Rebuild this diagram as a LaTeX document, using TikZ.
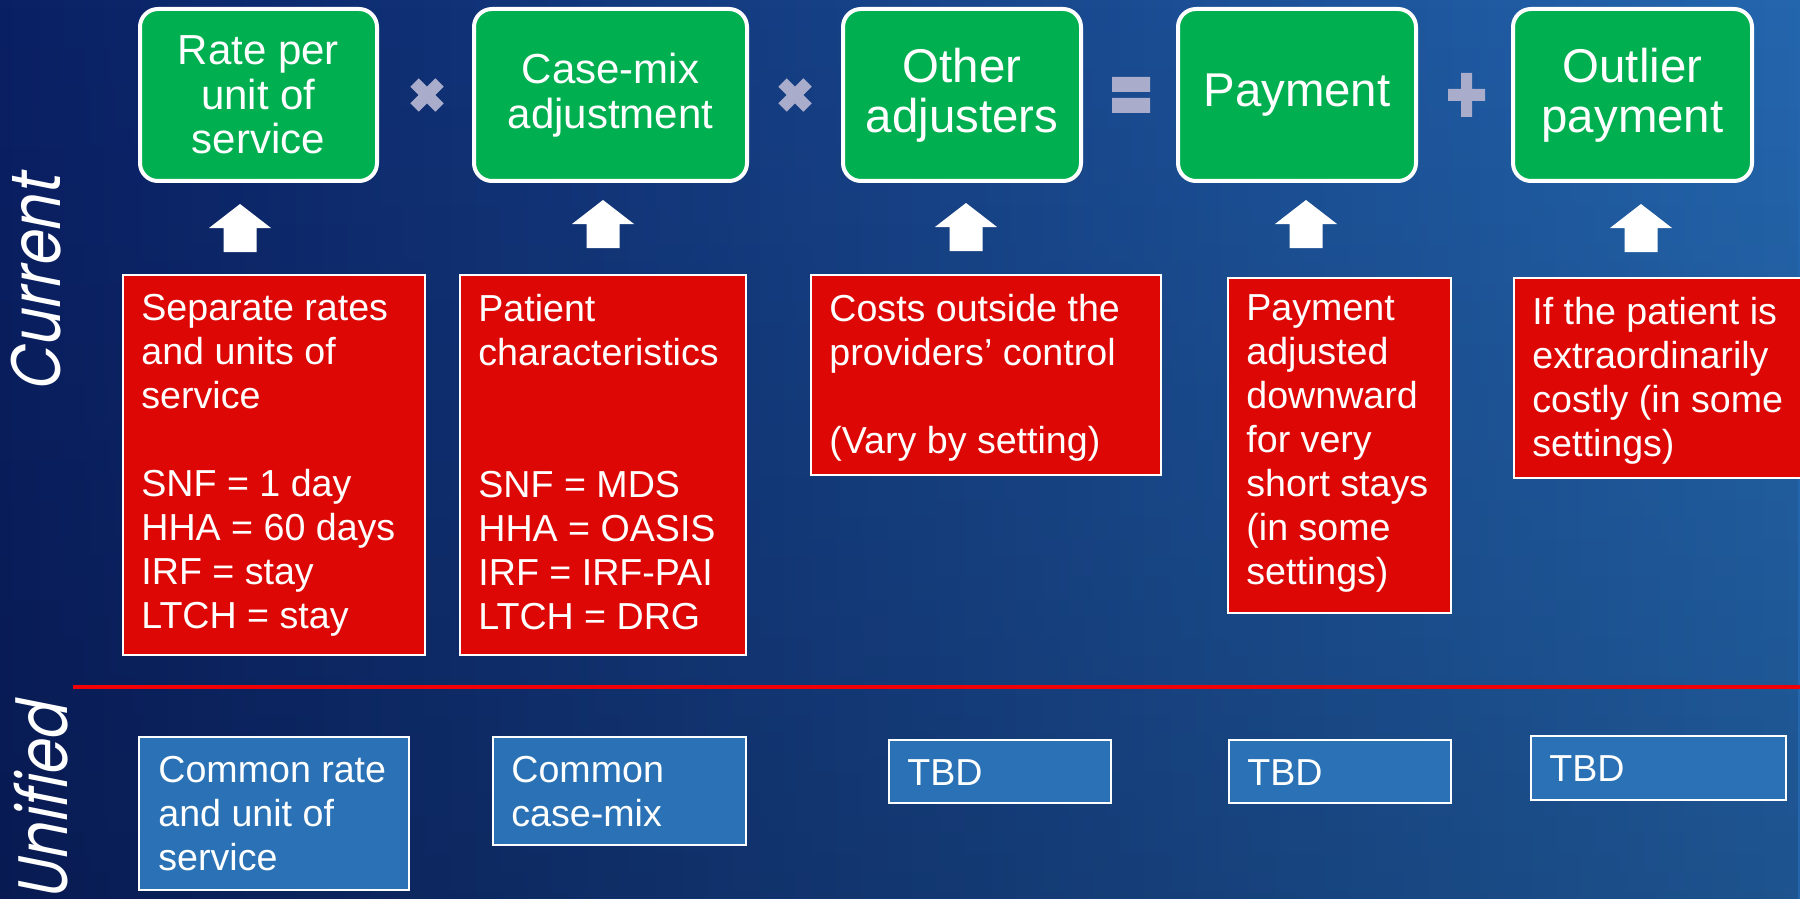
\documentclass[tikz,border=0pt]{standalone}
\usepackage{fontspec}
\setmainfont{Liberation Sans}
\newfontfamily\sidefont[FakeSlant=0.2,FakeStretch=0.82]{Poppins}
\usetikzlibrary{fadings}
\definecolor{bgL}{HTML}{0A2064}
\definecolor{bgR}{HTML}{2466AE}
\definecolor{ggreen}{HTML}{00AF50}
\definecolor{rred}{HTML}{DD0806}
\definecolor{bblue}{HTML}{2A72B5}
\definecolor{opcol}{HTML}{A9ADCB}
\definecolor{lred}{HTML}{F20008}
\newcommand{\blockarrow}[2]{\fill[white] (#1,#2) -- ++(31,24) -- ++(-14.5,0) -- ++(0,24) -- ++(-33,0) -- ++(0,-24) -- ++(-14.5,0) -- cycle;}
\begin{document}
\begin{tikzpicture}[x=0.5pt,y=-0.5pt,
 gbox/.style={draw=white,line width=2pt,fill=ggreen,rounded corners=9pt,text=white,align=center,inner sep=0pt,minimum height=86pt},
 gsmall/.style={font=\fontsize{21}{22.2}\selectfont},
 glarge/.style={font=\fontsize{23.7}{25}\selectfont},
 rbox/.style={draw=white,line width=1pt,fill=rred,anchor=north west,inner sep=0pt},
 bbox/.style={draw=white,line width=1pt,fill=bblue,anchor=north west,inner sep=0pt},
 btext/.style={anchor=north west,inner sep=0pt,text=white,align=left,font=\fontsize{18.8}{22}\selectfont,xshift=9.5pt,yshift=-10pt},
 oper/.style={fill=opcol},
 side/.style={text=white,font=\sidefont\fontsize{35}{40}\selectfont,rotate=90,inner sep=0pt}]
\useasboundingbox (0,0) rectangle (1800,899);
\clip (0,0) rectangle (1800,899);
% background
\shade[left color=bgL, right color=bgR] (0,0) rectangle (1800,899);
\fill[black, opacity=0.18, path fading=north] (0,0) rectangle (1800,899);

% side labels
\node[side, anchor=base] (cur) at (61,284) {Current};
\node[side, anchor=base east] (uni) at (68,703) {Unified};

% green boxes
\node[gbox, gsmall, minimum width=118.5pt] (g1) at (258.5,95) {Rate per\\unit of\\service};
\node[gbox, gsmall, minimum width=136.5pt] (g2) at (610.5,95) {Case-mix\\adjustment};
\node[gbox, glarge, minimum width=119pt] (g3) at (962,95) {Other\\adjusters};
\node[gbox, glarge, minimum width=119pt] (g4) at (1297,95) {Payment};
\node[gbox, glarge, minimum width=119.5pt] (g5) at (1632.5,95) {Outlier\\payment};

% operators
\draw[opcol, line width=6pt] (414.5,82.5) -- (439.5,107.5) (414.5,107.5) -- (439.5,82.5);
\draw[opcol, line width=6pt] (782.5,82.5) -- (807.5,107.5) (782.5,107.5) -- (807.5,82.5);
\fill[oper] (1112,77) rectangle (1150,92) (1112,98) rectangle (1150,113);
\fill[oper] (1461,73) rectangle (1472,117) (1448,89) rectangle (1485,101);

% up arrows
\blockarrow{240}{204}
\blockarrow{603}{200}
\blockarrow{966}{203}
\blockarrow{1306}{200}
\blockarrow{1641}{204}

% red boxes
\node[rbox, minimum width=151pt, minimum height=190pt] (r1) at (122,274) {};
\node[btext] (t1) at (r1.north west) {Separate rates\\and units of\\service\\[22pt]SNF = 1 day\\HHA = 60 days\\IRF = stay\\LTCH = stay};
\node[rbox, minimum width=143pt, minimum height=190pt] (r2) at (459,274) {};
\node[btext] (t2) at (r2.north west) {Patient\\characteristics\\[44pt]SNF = MDS\\HHA = OASIS\\IRF = IRF-PAI\\LTCH = DRG};
\node[rbox, minimum width=175pt, minimum height=100pt] (r3) at (810,274) {};
\node[btext] (t3) at (r3.north west) {Costs outside the\\providers’ control\\[22pt](Vary by setting)};
\node[rbox, minimum width=111.5pt, minimum height=167.5pt] (r4) at (1227,277) {};
\node[btext, yshift=1.5pt] (t4) at (r4.north west) {Payment\\adjusted\\downward\\for very\\short stays\\(in some\\settings)};
\node[rbox, minimum width=153pt, minimum height=100pt] (r5) at (1513,277) {};
\node[btext] (t5) at (r5.north west) {If the patient is\\extraordinarily\\costly (in some\\settings)};

% divider
\draw[lred, line width=2pt] (73,687) -- (1800,687);

% blue boxes
\node[bbox, minimum width=135pt, minimum height=76.5pt] (b1) at (138,736) {};
\node[btext, xshift=0.5pt] (u1) at (b1.north west) {Common rate\\and unit of\\service};
\node[bbox, minimum width=126.5pt, minimum height=54pt] (b2) at (492,736) {};
\node[btext] (u2) at (b2.north west) {Common\\case-mix};
\node[bbox, minimum width=111pt, minimum height=31.5pt] (b3) at (888,739) {};
\node[btext] (u3) at (b3.north west) {TBD};
\node[bbox, minimum width=111pt, minimum height=31.5pt] (b4) at (1228,739) {};
\node[btext] (u4) at (b4.north west) {TBD};
\node[bbox, minimum width=127.5pt, minimum height=32pt] (b5) at (1530,735) {};
\node[btext] (u5) at (b5.north west) {TBD};
\end{tikzpicture}
\end{document}
